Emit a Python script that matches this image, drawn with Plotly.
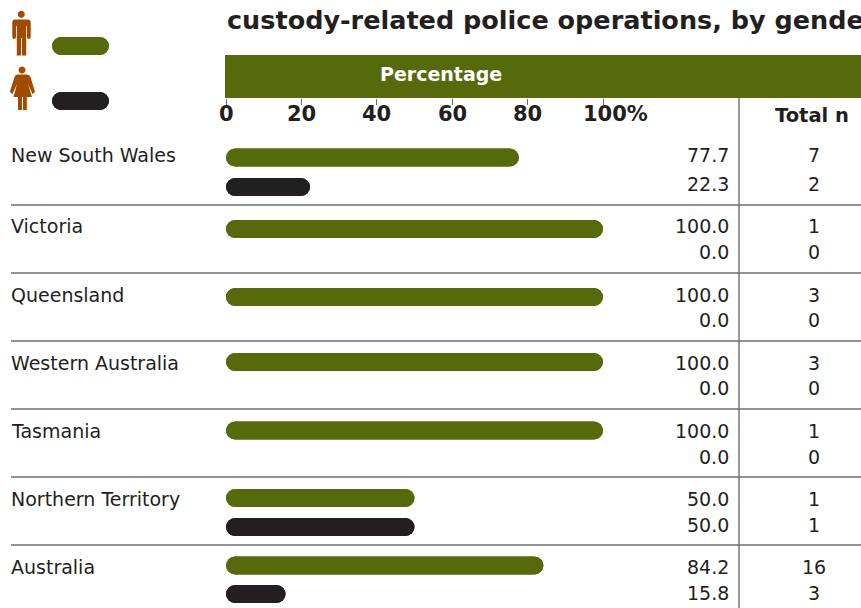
import plotly.graph_objects as go

regions = ["New South Wales", "Victoria", "Queensland", "Western Australia", "Tasmania", "Northern Territory", "Australia"]
male_pct = [77.7, 100.0, 100.0, 100.0, 100.0, 50.0, 84.2]
female_pct = [22.3, 0.0, 0.0, 0.0, 0.0, 50.0, 15.8]
male_n = [7, 1, 3, 3, 1, 1, 16]
female_n = [2, 0, 0, 0, 0, 1, 3]
tick_vals = [0, 20, 40, 60, 80, 100]
tick_text = ["0", "20", "40", "60", "80", "100%"]

W, H = 861, 608
GREEN, BLACK, BROWN, GREY = "#566a0c", "#231f20", "#a14b00", "#6d6e71"
BODY = "'DejaVu Sans', sans-serif"

male_y = [157.5, 229, 297, 362, 430.5, 498, 565.5]
female_y = [187, 255, 321, 389, 457, 527, 594]
pct_m_y = [155, 226, 295, 363, 431, 499, 567]
pct_f_y = [184, 252, 320, 388, 457, 525, 593]
rules = [205, 273, 341, 409, 477, 545]

fig = go.Figure()
def pill(ys, vals, color):
    # two overlaid bars, one rounded at each end
    fig.add_trace(go.Bar(y=ys, x=vals, base=[0] * len(vals), orientation="h", width=18,
                         marker=dict(color=color, line_width=0), showlegend=False))
    fig.add_trace(go.Bar(y=ys, x=[-v for v in vals], base=vals, orientation="h", width=18,
                         marker=dict(color=color, line_width=0), showlegend=False))
pill(male_y, male_pct, GREEN)
pill(female_y, female_pct, BLACK)
# legend pills
for yy, col in ((46, GREEN), (101, BLACK)):
    fig.add_trace(go.Bar(y=[yy], x=[57], base=[52], orientation="h", width=18, xaxis="x2",
                         marker=dict(color=col, line_width=0), showlegend=False))
    fig.add_trace(go.Bar(y=[yy], x=[-57], base=[109], orientation="h", width=18, xaxis="x2",
                         marker=dict(color=col, line_width=0), showlegend=False))

shapes = [dict(type="rect", xref="x2", yref="y", x0=225, x1=861, y0=55, y1=98, fillcolor=GREEN, line_width=0, layer="below")]
for r in rules:
    shapes.append(dict(type="line", xref="x2", yref="y", x0=11, x1=861, y0=r, y1=r, line=dict(color=GREY, width=1.4), layer="below"))
shapes.append(dict(type="line", xref="x2", yref="y", x0=739, x1=739, y0=98, y1=608, line=dict(color=GREY, width=1.4), layer="below"))

def head(cx, cy, r):
    k = r * 0.5523
    return (f"M{cx},{cy-r} C{cx+k},{cy-r} {cx+r},{cy-k} {cx+r},{cy} C{cx+r},{cy+k} {cx+k},{cy+r} {cx},{cy+r} "
            f"C{cx-k},{cy+r} {cx-r},{cy+k} {cx-r},{cy} C{cx-r},{cy-k} {cx-k},{cy-r} {cx},{cy-r} Z ")
man = (head(21.3, 14.3, 3.5) +
       "M14.5,19.5 L28.5,19.5 Q30.7,19.5 30.7,22 L30.7,37 Q30.7,39 28.8,39 Q27,39 27,37 L27,26 L26.2,26 L26.2,55.5 "
       "L22,55.5 L22,38 L21,38 L21,55.5 L16.8,55.5 L16.8,26 L16,26 L16,37 Q16,39 14.2,39 Q12.3,39 12.3,37 L12.3,22 Q12.3,19.5 14.5,19.5 Z")
woman = (head(22, 70, 3.5) +
         "M17.5,74.5 L27,74.5 Q29.5,74.5 30.5,77 L35,92 L32.5,94 L28,84 L32,97 L26.8,97 L26.8,110 L23,110 L23,97 L22,97 L22,110 L18,110 L18,97 "
         "L13.5,97 L17,84 L12.5,94 L9.8,92 L14.5,77 Q15.2,74.5 17.5,74.5 Z")
for p in (man, woman):
    shapes.append(dict(type="path", xref="x2", yref="y", path=p, fillcolor=BROWN, line_width=0))

ann = []
def t(x, y, s, anchor="left", size=19, bold=False, color=BLACK, xref="x2", xshift=None):
    if xshift is None:
        xshift = {"left": -2, "right": 2, "center": 0}[anchor]
    ann.append(dict(xref=xref, yref="y", x=x, y=y, text=f"<b>{s}</b>" if bold else s, showarrow=False, xanchor=anchor,
                    xshift=xshift, yanchor="middle", font=dict(size=size, color=color, family=BODY)))

t(227, 20, "custody-related police operations, by gender", size=25.5, bold=True)
t(441, 74, "Percentage", "center", 19, True, "#ffffff")
t(812, 115, "Total n", "center", 19.5, True)
for v, s in zip(tick_vals, tick_text):
    # the % sign hangs to the right of the centred 100
    t(v, 114, s, "center", 21, True, xref="x", xshift=12 if s.endswith("%") else 0)
for i, name in enumerate(regions):
    t(11, pct_m_y[i], name)
    t(729, pct_m_y[i], f"{male_pct[i]:.1f}", "right")
    t(729, pct_f_y[i], f"{female_pct[i]:.1f}", "right")
    t(814, pct_m_y[i], str(male_n[i]), "center")
    t(814, pct_f_y[i], str(female_n[i]), "center")

fig.update_layout(
    width=W, height=H, margin=dict(l=0, r=0, t=0, b=0, autoexpand=False), autosize=False,
    paper_bgcolor="white", plot_bgcolor="rgba(0,0,0,0)", barmode="overlay", barcornerradius=9,
    xaxis=dict(domain=[226 / W, 603 / W], range=[0, 100], side="bottom", anchor="free", position=1 - 98 / H,
               tickvals=tick_vals, ticktext=[""] * len(tick_vals), ticks="outside", ticklen=6, tickcolor=GREY, tickwidth=1,
               showgrid=False, zeroline=False, showline=False),
    xaxis2=dict(domain=[0, 1], range=[0, W], anchor="y", visible=False),
    yaxis=dict(domain=[0, 1], range=[H, 0], visible=False),
    shapes=shapes, annotations=ann,
)
fig.write_html("out.html", config={"displayModeBar": False},
               post_script="document.body.style.margin='0';document.documentElement.style.overflow='hidden';")
